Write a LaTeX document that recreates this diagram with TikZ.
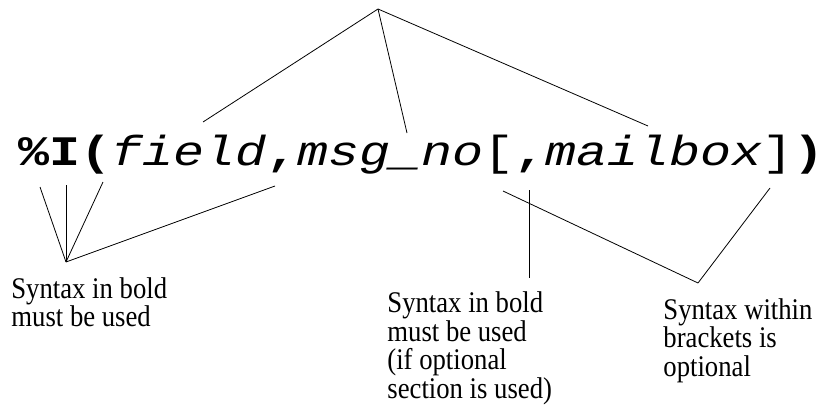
\documentclass[tikz,border=0pt]{standalone}
\usepackage{fontspec}
\setmainfont{Liberation Serif}
\newfontfamily\codefont[FakeStretch=1.23]{Liberation Mono}
\newfontfamily\notefont[FakeStretch=0.89]{Liberation Serif}
\begin{document}
\begin{tikzpicture}[x=1pt, y=-1pt, line width=0.8pt]
    \tikzset{note/.style={anchor=base west, align=left, inner sep=0, font=\notefont\fontsize{30}{28.5}\selectfont}}
    \useasboundingbox (0,0) rectangle (826,417);
    % Syntax line
    \node[anchor=base west, inner sep=0] (syntax) at (18,165)
        {\codefont\fontsize{42}{42}\selectfont\textbf{\%I(}\textit{field}\textbf{,}\textit{msg\_no}[\textbf{,}\textit{mailbox}]\textbf{)}};
    % Top fan
    \coordinate (top) at (378,9);
    \coordinate (fieldend) at (203,122);
    \coordinate (msgend) at (407,133);
    \coordinate (mailend) at (648,126);
    \draw (top) -- (fieldend);
    \draw (top) -- (msgend);
    \draw (top) -- (mailend);
    % Bold marks
    \coordinate (pct) at (40,187);
    \coordinate (ichar) at (66,185);
    \coordinate (lparen) at (103,182);
    \coordinate (comma) at (275,186);
    \coordinate (boldjoin) at (66,262);
    \draw (pct) -- (boldjoin);
    \draw (ichar) -- (boldjoin);
    \draw (lparen) -- (boldjoin);
    \draw (comma) -- (boldjoin);
    % Optional section
    \coordinate (lbrack) at (503,191);
    \coordinate (rbrack) at (770,188);
    \coordinate (optjoin) at (698,283);
    \coordinate (optcomma) at (529,190);
    \coordinate (optcommaend) at (529,278);
    \draw (lbrack) -- (optjoin);
    \draw (rbrack) -- (optjoin);
    \draw (optcomma) -- (optcommaend);
    % Notes
    \node[note] (boldnote) at (11,326.5) {Syntax in bold\\must be used};
    \node[note] (optboldnote) at (387,398) {Syntax in bold\\must be used\\(if optional\\section is used)};
    \node[note] (bracketnote) at (663,376) {Syntax within\\brackets is\\optional};
\end{tikzpicture}
\end{document}
